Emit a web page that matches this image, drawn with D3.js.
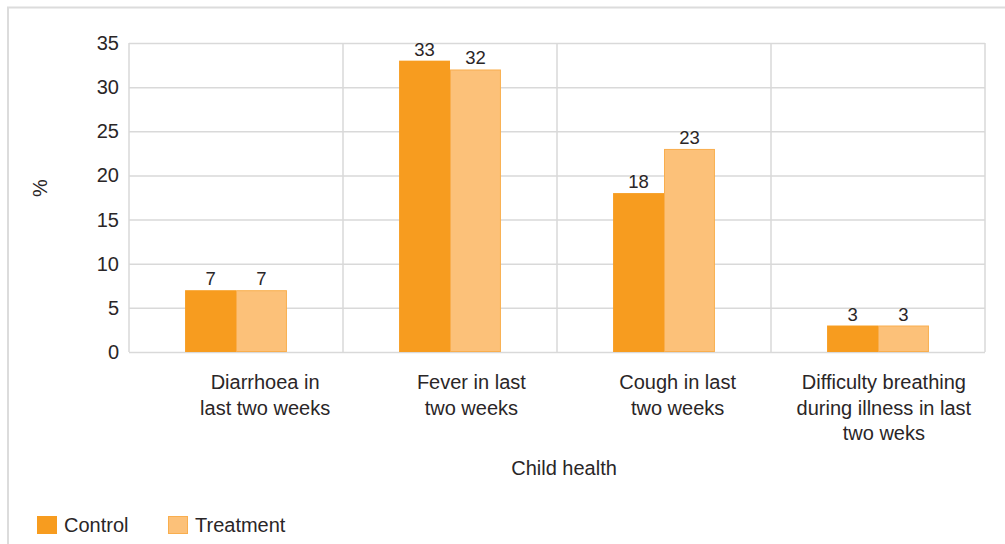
<!DOCTYPE html>
<html>
<head>
<meta charset="utf-8">
<script src="https://cdn.jsdelivr.net/npm/d3@7"></script>
<style>
  html, body { margin: 0; padding: 0; background: #fff; }
  svg { display: block; }
  text { font-family: "Liberation Sans", Arial, Helvetica, sans-serif; fill: #2a2627; }
</style>
</head>
<body>
<svg id="chart" width="1005" height="544"></svg>
<script>
// Child health indicators, % of children, by study arm
const categories = [
  ["Diarrhoea in", "last two weeks"],
  ["Fever in last", "two weeks"],
  ["Cough in last", "two weeks"],
  ["Difficulty breathing", "during illness in last", "two weks"]
];
const seriesNames = ["Control", "Treatment"];
const controlValues = [7, 33, 18, 3];
const treatmentValues = [7, 32, 23, 3];
const yTicks = [0, 5, 10, 15, 20, 25, 30, 35];

const colors = { Control: "#F79C1F", Treatment: "#FCC179" };
const strokes = { Control: "none", Treatment: "#F9AE4E" };

const svg = d3.select("#chart");
const W = 1005, H = 544;

// outer frame
svg.append("rect")
  .attr("x", 8).attr("y", 7.5)
  .attr("width", W + 10).attr("height", H + 10)
  .attr("fill", "none").attr("stroke", "#dcdcdc").attr("stroke-width", 2);

const plot = { left: 129, right: 985, top: 43, bottom: 352 };

const x0 = d3.scaleBand()
  .domain(d3.range(categories.length))
  .range([plot.left, plot.right])
  .paddingInner(0).paddingOuter(0);

// category labels sit on their own, slightly narrower band
const xLabel = d3.scaleBand()
  .domain(d3.range(categories.length))
  .range([162, 987]);

const barW = x0.bandwidth() * 0.238;
const x1 = d3.scaleBand()
  .domain(seriesNames)
  .range([0, barW * 2]);

const y = d3.scaleLinear().domain([0, 35]).range([plot.bottom, plot.top]);

// horizontal gridlines
svg.append("g").selectAll("line").data(yTicks).join("line")
  .attr("x1", plot.left).attr("x2", plot.right)
  .attr("y1", d => y(d) + 0.5).attr("y2", d => y(d) + 0.5)
  .attr("stroke", "#d9d9d9").attr("stroke-width", 1.5);

// vertical category separators
const bounds = d3.range(categories.length + 1).map(i =>
  i < categories.length ? x0(i) : x0(categories.length - 1) + x0.bandwidth());
svg.append("g").selectAll("line").data(bounds).join("line")
  .attr("x1", d => d).attr("x2", d => d)
  .attr("y1", plot.top).attr("y2", plot.bottom)
  .attr("stroke", "#d9d9d9").attr("stroke-width", 1.5);

// y tick labels
svg.append("g").selectAll("text").data(yTicks).join("text")
  .attr("x", 119).attr("y", d => y(d))
  .attr("dy", "0.35em")
  .attr("text-anchor", "end")
  .attr("font-size", 20)
  .text(d => d);

// bars
const rows = categories.map((c, i) => ({
  i,
  vals: [
    { key: "Control", v: controlValues[i] },
    { key: "Treatment", v: treatmentValues[i] }
  ]
}));

const groups = svg.append("g").selectAll("g").data(rows).join("g")
  .attr("transform", d => `translate(${x0(d.i) + x0.bandwidth() / 2 - barW},0)`);

groups.selectAll("rect").data(d => d.vals).join("rect")
  .attr("x", d => x1(d.key) + (d.key === "Treatment" ? 0.5 : 0))
  .attr("y", d => y(d.v) + (d.key === "Treatment" ? 0.5 : 0))
  .attr("width", d => x1.bandwidth() - (d.key === "Treatment" ? 1 : 0))
  .attr("height", d => y(0) - y(d.v) - (d.key === "Treatment" ? 1 : 0))
  .attr("fill", d => colors[d.key])
  .attr("stroke", d => strokes[d.key])
  .attr("stroke-width", 1);

groups.selectAll("text").data(d => d.vals).join("text")
  .attr("x", d => x1(d.key) + x1.bandwidth() / 2)
  .attr("y", d => y(d.v) - 5)
  .attr("text-anchor", "middle")
  .attr("font-size", 18.5)
  .text(d => d.v);

// category labels
const catG = svg.append("g").selectAll("text").data(categories).join("text")
  .attr("text-anchor", "middle")
  .attr("font-size", 20)
  .attr("transform", (d, i) => `translate(${xLabel(i) + xLabel.bandwidth() / 2},389)`);
catG.selectAll("tspan").data(d => d).join("tspan")
  .attr("x", 0)
  .attr("y", (d, j) => j * 25.5)
  .text(d => d);

// axis titles
svg.append("text")
  .attr("transform", "translate(47,188) rotate(-90)")
  .attr("text-anchor", "middle")
  .attr("font-size", 20)
  .text("%");

svg.append("text")
  .attr("x", 564)
  .attr("y", 475)
  .attr("text-anchor", "middle")
  .attr("font-size", 20)
  .text("Child health");

// legend
const legendX = [37, 168];
const leg = svg.append("g").selectAll("g").data(seriesNames).join("g")
  .attr("transform", (d, i) => `translate(${legendX[i]},516)`);
leg.append("rect")
  .attr("x", d => d === "Treatment" ? 0.5 : 0)
  .attr("y", d => d === "Treatment" ? 0.5 : 0)
  .attr("width", d => d === "Treatment" ? 19 : 20)
  .attr("height", d => d === "Treatment" ? 17 : 18)
  .attr("fill", d => colors[d])
  .attr("stroke", d => strokes[d]);
leg.append("text")
  .attr("x", 27).attr("y", 9)
  .attr("dy", "0.35em")
  .attr("font-size", 20)
  .text(d => d);
</script>
</body>
</html>
